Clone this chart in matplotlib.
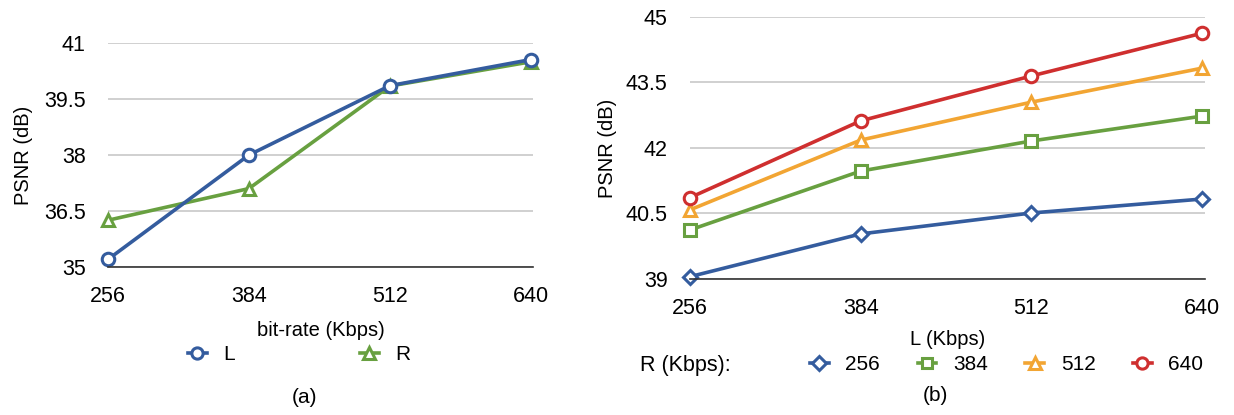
import matplotlib.pyplot as plt

plt.rcParams['font.family'] = ['Liberation Sans', 'DejaVu Sans']

# panel (a)
rates = [256, 384, 512, 640]
psnr_l = [35.2, 38.0, 39.86, 40.56]
psnr_r = [36.25, 37.1, 39.85, 40.5]

# panel (b): PSNR vs L, one line per R
l_rates = [256, 384, 512, 640]
r_labels = ['256', '384', '512', '640']
psnr_r256 = [39.05, 40.03, 40.51, 40.83]
psnr_r384 = [40.12, 41.47, 42.16, 42.73]
psnr_r512 = [40.58, 42.18, 43.05, 43.83]
psnr_r640 = [40.86, 42.62, 43.65, 44.63]

BLUE = '#345c9e'
GREEN = '#68a040'
ORANGE = '#f2a533'
RED = '#cf2f2f'


def style_axes(ax, ticks, yticks):
    ax.set_xticks(ticks)
    ax.set_yticks(yticks)
    ax.set_yticklabels([('%g' % t) for t in yticks])
    for s in ax.spines.values():
        s.set_visible(False)
    ax.spines['bottom'].set_visible(True)
    ax.spines['bottom'].set_color('#333333')
    ax.spines['bottom'].set_linewidth(1.2)
    ax.tick_params(length=0, labelsize=15.5)
    ax.tick_params(axis='x', pad=14)
    ax.tick_params(axis='y', pad=16)
    ax.grid(axis='y', color='#c8c8c8', linewidth=1.2)
    ax.set_axisbelow(True)


fig = plt.figure(figsize=(12.34, 4.15), dpi=100)

ax1 = fig.add_axes([0.0875, 0.357, 0.3445, 0.539])
mk = dict(markerfacecolor='white', markeredgewidth=2.2, markersize=9, linewidth=2.6, clip_on=False)
ax1.plot(rates, psnr_r, color=GREEN, marker='^', label='R', **mk)
ax1.plot(rates, psnr_l, color=BLUE, marker='o', label='L', **mk)
ax1.set_xlim(256, 642)
ax1.set_ylim(35, 41)
style_axes(ax1, rates, [35, 36.5, 38, 39.5, 41])
ax1.set_xlabel('bit-rate (Kbps)', fontsize=14.5, labelpad=10)
ax1.set_ylabel('PSNR (dB)', fontsize=14.5, labelpad=8)
h, lab = ax1.get_legend_handles_labels()
ax1.legend(h[::-1], lab[::-1], ncol=2, frameon=False, fontsize=15,
           loc='upper center', bbox_to_anchor=(0.45, -0.265), columnspacing=6,
           handlelength=0.9, handletextpad=0.8, markerscale=0.9)
fig.text(0.247, 0.03, '(a)', ha='center', fontsize=15)

ax2 = fig.add_axes([0.559, 0.328, 0.4175, 0.631])
series = [psnr_r256, psnr_r384, psnr_r512, psnr_r640]
colors = [BLUE, GREEN, ORANGE, RED]
markers = ['D', 's', '^', 'o']
sizes = [7.5, 8.5, 9, 9]
for vals, c, m, s, lab in zip(series, colors, markers, sizes, r_labels):
    ax2.plot(l_rates, vals, color=c, marker=m, label=lab,
             markerfacecolor='white', markeredgewidth=2.2, markersize=s,
             linewidth=2.6, clip_on=False)
ax2.set_xlim(256, 642)
ax2.set_ylim(39, 45)
style_axes(ax2, l_rates, [39, 40.5, 42, 43.5, 45])
ax2.set_xlabel('L (Kbps)', fontsize=14.5, labelpad=8)
ax2.set_ylabel('PSNR (dB)', fontsize=14.5, labelpad=6)
ax2.legend(ncol=4, frameon=False, fontsize=15, loc='upper center',
           bbox_to_anchor=(0.615, -0.22), columnspacing=1.8,
           handlelength=0.9, handletextpad=0.8, markerscale=0.9)
fig.text(0.519, 0.105, 'R (Kbps):', ha='left', fontsize=15.5)
fig.text(0.758, 0.033, '(b)', ha='center', fontsize=15)

fig.savefig('out.png', dpi=100, facecolor='white')
